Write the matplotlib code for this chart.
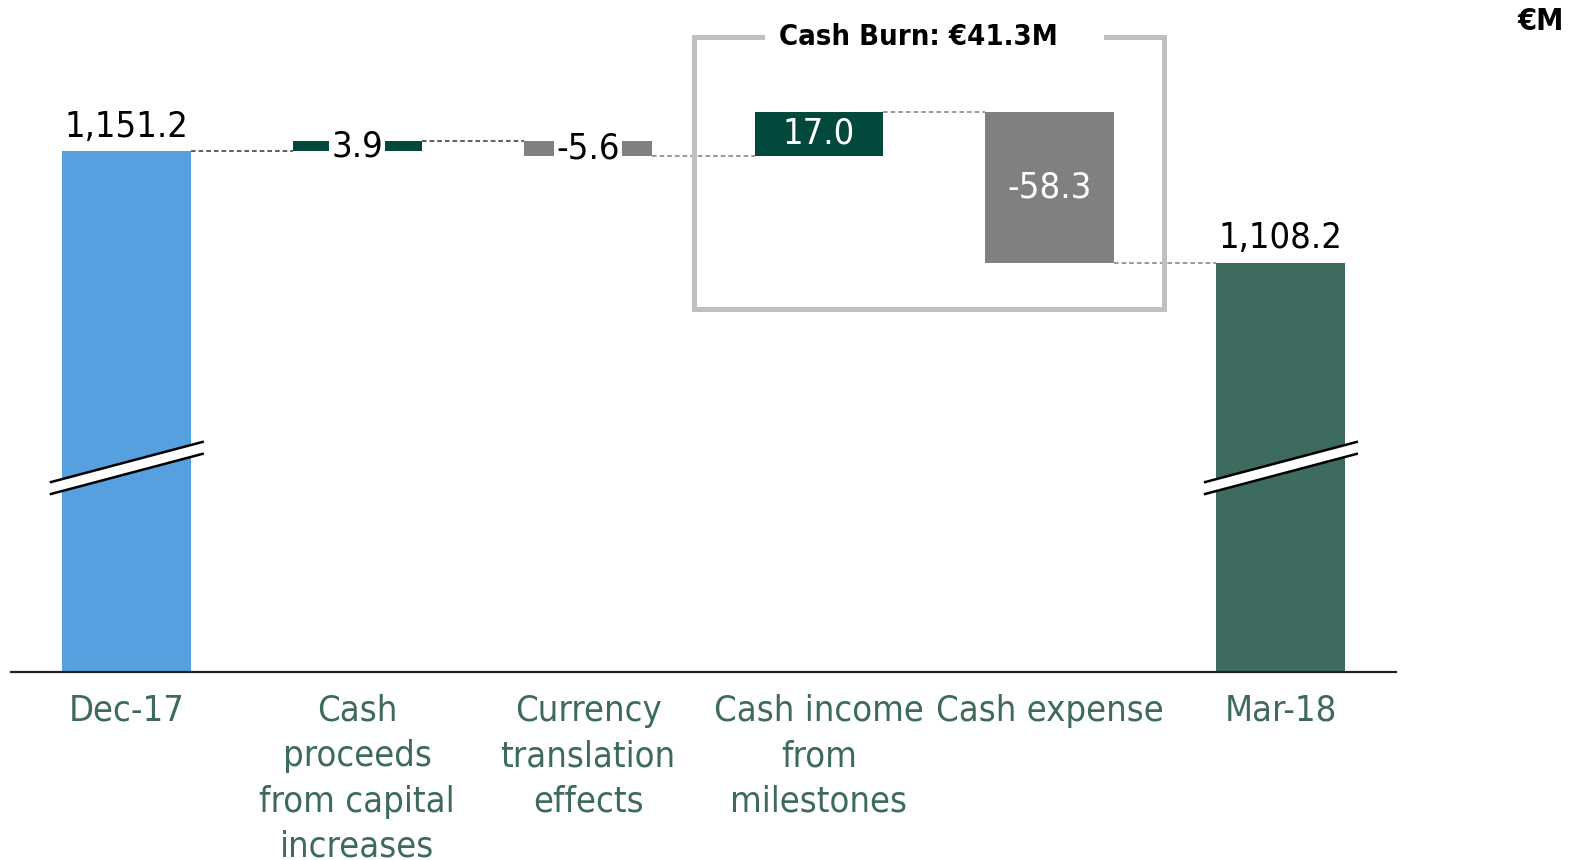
import matplotlib
matplotlib.use("Agg")
import matplotlib.pyplot as plt
from matplotlib.patches import Polygon

categories = ['Dec-17', 'Cash\nproceeds\nfrom capital\nincreases', 'Currency\ntranslation\neffects',
              'Cash income\nfrom\nmilestones', 'Cash expense', 'Mar-18']
values = [1151.2, 3.9, -5.6, 17.0, -58.3, 1108.2]
is_total = [True, False, False, False, False, True]
value_labels = ['1,151.2', '3.9', '-5.6', '17.0', '-58.3', '1,108.2']
burn_items = [3, 4]  # cash income + cash expense

col_start = '#56A0E0'
col_end = '#3E6B5F'
col_pos = '#03483D'
col_neg = '#808080'
col_cat = '#3D6A5D'

font = dict(family='DejaVu Sans', fontstretch='condensed')

fig = plt.figure(figsize=(15.86, 8.6), dpi=100)
ax = fig.add_axes([11/1586, 1-671.7/860, (1396-11)/1586, 671.7/860])
ymin, ymax = 950.3, 1209.6
ax.set_ylim(ymin, ymax)
ax.set_xlim(-0.5, 5.5)
w = 0.558

# waterfall geometry
levels = []
running = 0
bottoms, heights, colors = [], [], []
for v, tot in zip(values, is_total):
    if tot:
        running = v
        bottoms.append(ymin)
        heights.append(v - ymin)
        colors.append(col_start if not levels else col_end)
    else:
        bottoms.append(running if v >= 0 else running + v)
        heights.append(abs(v))
        colors.append(col_pos if v >= 0 else col_neg)
        running += v
    levels.append(running)

x = list(range(len(values)))
ax.bar(x, heights, bottom=bottoms, width=w, color=colors, zorder=2)

# connectors
for i in range(len(values) - 1):
    c = '#333333' if i < 2 else '#7f7f7f'
    ax.plot([i + w/2, i + 1 - w/2], [levels[i], levels[i]], ls=(0, (3, 2)), lw=1.1, color=c, zorder=1)

# value labels
for i, (v, tot) in enumerate(zip(values, is_total)):
    top = bottoms[i] + heights[i]
    mid = bottoms[i] + heights[i] / 2
    if tot:
        ax.text(i, top + 3, value_labels[i], ha='center', va='bottom', fontsize=26, color='black', **font)
    elif abs(v) < 10:
        ax.text(i, mid, value_labels[i], ha='center', va='center', fontsize=26, color='black', zorder=3,
                bbox=dict(facecolor='white', edgecolor='none', pad=1.5), **font)
    else:
        ax.text(i, mid, value_labels[i], ha='center', va='center', fontsize=26, color='white', zorder=3, **font)

# axis break marks on total bars
for i, tot in enumerate(is_total):
    if not tot:
        continue
    xa, xb = i - 0.327, i + 0.33
    ya, yb, gap = 1023.5, 1039.0, 4.6
    ax.add_patch(Polygon([[xa, ya], [xb, yb], [xb, yb - gap], [xa, ya - gap]], closed=True,
                         facecolor='white', edgecolor='none', zorder=4, clip_on=False))
    ax.plot([xa, xb], [ya, yb], color='black', lw=1.8, zorder=5, clip_on=False)
    ax.plot([xa, xb], [ya - gap, yb - gap], color='black', lw=1.8, zorder=5, clip_on=False)

# cash burn bracket
burn = -sum(values[k] for k in burn_items)
bx0, bx1 = burn_items[0] - 0.541, burn_items[1] + 0.496
by0, by1 = 1090.3, 1195.5
gx0, gx1 = 2.753, 4.245
ax.plot([gx0, bx0, bx0, bx1, bx1, gx1], [by1, by1, by0, by0, by1, by1], color='#BFBFBF', lw=3.6,
        solid_joinstyle='miter', clip_on=False, zorder=1)
ax.text(3.43, by1, f'Cash Burn: €{burn:.1f}M', ha='center', va='center', fontsize=21,
        fontweight='bold', color='black', **font)

fig.text(1541/1586, 1-21/860, '€M', ha='center', va='center', fontsize=22, fontweight='bold', **font)

ax.set_xticks(x)
ax.set_xticklabels(categories, fontsize=26, color=col_cat, linespacing=1.42, **font)
ax.tick_params(axis='x', length=0, pad=16)
ax.set_yticks([])
for s in ['top', 'right', 'left']:
    ax.spines[s].set_visible(False)
ax.spines['bottom'].set_linewidth(1.6)
ax.spines['bottom'].set_color('#222222')

plt.savefig('out.png', dpi=100)
